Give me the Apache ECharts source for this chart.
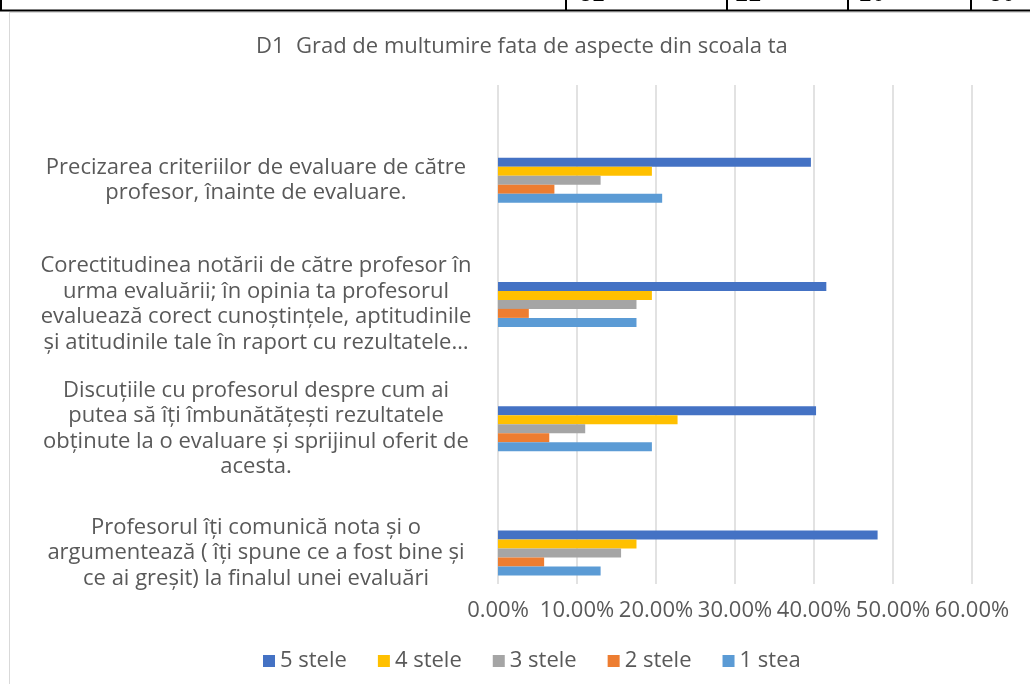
<!DOCTYPE html>
<html>
<head>
<meta charset="utf-8">
<script src="https://cdn.jsdelivr.net/npm/echarts@6/dist/echarts.min.js"></script>
<style>
  html, body { margin: 0; padding: 0; background: #fff; }
  #chart { width: 1030px; height: 684px; }
</style>
</head>
<body>
<div id="chart"></div>
<script>
// categories, top to bottom
var categories = [
  "Precizarea criteriilor de evaluare de către\nprofesor, înainte de evaluare.",
  "Corectitudinea notării de către profesor în\nurma evaluării; în opinia ta profesorul\nevaluează corect cunoștințele, aptitudinile\nși atitudinile tale în raport cu rezultatele…",
  "Discuțiile cu profesorul despre cum ai\nputea să îți îmbunătățești rezultatele\nobținute la o evaluare și sprijinul oferit de\nacesta.",
  "Profesorul îți comunică nota și o\nargumentează ( îți spune ce a fost bine și\nce ai greșit) la finalul unei evaluări"
];
var seriesNames = ["5 stele", "4 stele", "3 stele", "2 stele", "1 stea"];
var stele5 = [0.3961, 0.4156, 0.4026, 0.4805];
var stele4 = [0.1948, 0.1948, 0.2273, 0.1753];
var stele3 = [0.1299, 0.1753, 0.1104, 0.1558];
var stele2 = [0.0714, 0.0390, 0.0649, 0.0584];
var stea1 = [0.2078, 0.1753, 0.1948, 0.1299];
var xTicks = [0, 0.1, 0.2, 0.3, 0.4, 0.5, 0.6];
// bits of the table row above the chart
var tableCells = ["32", "11", "20", "30"];

var colors = ["#4472C4", "#FFC000", "#A5A5A5", "#ED7D31", "#5B9BD5"];
var values = [stele5, stele4, stele3, stele2, stea1];
var textColor = "#595959";
var font = "Open Sans";

var chart = echarts.init(document.getElementById("chart"));

var series = values.map(function (v, i) {
  return {
    name: seriesNames[i],
    type: "bar",
    xAxisIndex: 1,
    yAxisIndex: 1,
    data: v,
    barWidth: 9,
    barGap: "0%",
    itemStyle: { color: colors[i] },
    animation: false
  };
});

var cellX = [592, 748, 872, 1002];
var graphics = [
  // table borders
  { type: "line", shape: { x1: 0, y1: 10.5, x2: 1030, y2: 10.5 }, style: { stroke: "#000", lineWidth: 2 } },
  { type: "line", shape: { x1: 1, y1: 0, x2: 1, y2: 10 }, style: { stroke: "#000", lineWidth: 2 } },
  { type: "line", shape: { x1: 566, y1: 0, x2: 566, y2: 10 }, style: { stroke: "#000", lineWidth: 2 } },
  { type: "line", shape: { x1: 727, y1: 0, x2: 727, y2: 10 }, style: { stroke: "#000", lineWidth: 2 } },
  { type: "line", shape: { x1: 848, y1: 0, x2: 848, y2: 10 }, style: { stroke: "#000", lineWidth: 2 } },
  { type: "line", shape: { x1: 971, y1: 0, x2: 971, y2: 10 }, style: { stroke: "#000", lineWidth: 2 } },
  // chart frame
  { type: "line", shape: { x1: 10, y1: 12.5, x2: 1030, y2: 12.5 }, style: { stroke: "#d9d9d9", lineWidth: 1 } },
  { type: "line", shape: { x1: 9.5, y1: 12, x2: 9.5, y2: 684 }, style: { stroke: "#d9d9d9", lineWidth: 1 } }
];
tableCells.forEach(function (t, i) {
  graphics.push({
    type: "text",
    x: cellX[i],
    y: -5,
    style: { text: t, font: "22px 'Liberation Mono'", fill: "#000", align: "center", verticalAlign: "middle" }
  });
});

chart.setOption({
  animation: false,
  title: {
    text: "D1  Grad de multumire fata de aspecte din scoala ta",
    left: 251,
    top: 31,
    textStyle: { color: textColor, fontFamily: font, fontSize: 22, fontWeight: "normal" }
  },
  legend: {
    data: seriesNames,
    left: 258,
    top: 645,
    itemWidth: 12,
    itemHeight: 12,
    itemGap: 31,
    icon: "rect",
    textStyle: { color: textColor, fontFamily: font, fontSize: 22 }
  },
  grid: [
    { left: 498, width: 474, top: 85, height: 499 },
    { left: 498, width: 474, top: 118, height: 497 }
  ],
  xAxis: [
    {
      gridIndex: 0,
      type: "value",
      min: 0,
      max: 0.6,
      interval: 0.1,
      axisLine: { show: false },
      axisTick: { show: false },
      splitLine: { lineStyle: { color: "#d9d9d9", width: 1.5 } },
      axisLabel: {
        color: textColor,
        fontFamily: font,
        fontSize: 22,
        margin: 16,
        formatter: function (v) { return (v * 100).toFixed(2) + "%"; }
      }
    },
    { gridIndex: 1, type: "value", min: 0, max: 0.6, show: false }
  ],
  yAxis: [
    { gridIndex: 0, type: "value", show: false },
    {
      gridIndex: 1,
      type: "category",
      inverse: true,
      data: categories,
      axisLine: { show: false },
      axisTick: { show: false },
      axisLabel: {
        align: "center",
        margin: 242,
        color: textColor,
        fontFamily: font,
        fontSize: 22,
        lineHeight: 25.5
      }
    }
  ],
  series: series,
  graphic: graphics
});
</script>
</body>
</html>
